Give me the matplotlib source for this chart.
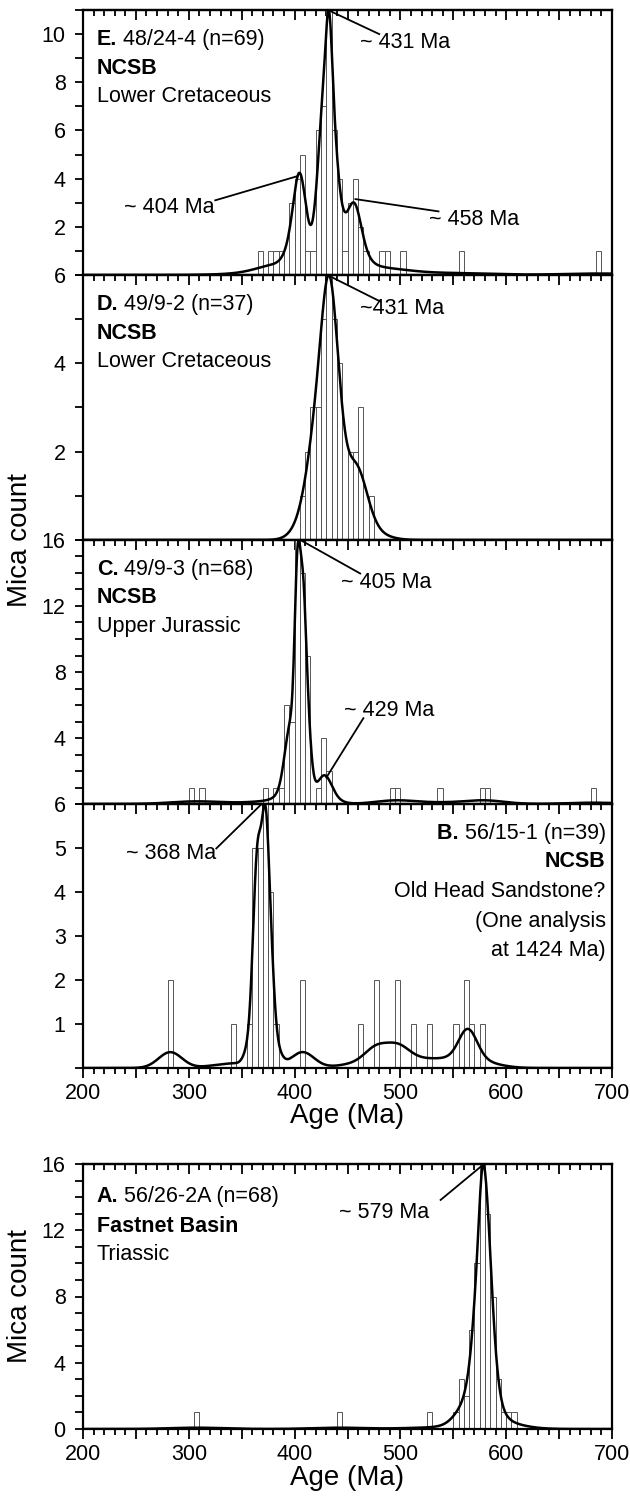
import numpy as np
import matplotlib.pyplot as plt
from matplotlib.ticker import MultipleLocator, FixedLocator, FuncFormatter

plt.rcParams['font.family'] = ['Liberation Sans', 'DejaVu Sans']
plt.rcParams['font.size'] = 15.5

BIN = 5  # histogram bin width (Ma)

# E. 48/24-4
e_bins = [365, 375, 380, 385, 395, 400, 405, 410, 415, 420, 425, 430, 435, 440,
          445, 450, 455, 460, 465, 480, 485, 500, 555, 685]
e_counts = [1, 1, 1, 1, 3, 4, 5, 1, 1, 6, 7, 11, 6, 4, 1, 3, 4, 2, 1, 1, 1, 1, 1, 1]

# D. 49/9-2
d_bins = [405, 410, 415, 420, 425, 430, 435, 440, 450, 455, 460, 470]
d_counts = [1, 2, 3, 3, 5, 6, 5, 4, 2, 2, 3, 1]

# C. 49/9-3
c_bins = [300, 310, 370, 380, 385, 390, 395, 400, 405, 410, 420, 425, 430,
          490, 495, 535, 575, 580, 680]
c_counts = [1, 1, 1, 1, 1, 6, 5, 16, 14, 9, 1, 4, 2, 1, 1, 1, 1, 1, 1]

# B. 56/15-1
b_bins = [280, 340, 355, 360, 365, 370, 375, 380, 405, 460, 475, 495, 510,
          525, 550, 560, 565, 575]
b_counts = [2, 1, 1, 5, 5, 6, 4, 1, 2, 1, 2, 2, 1, 1, 1, 2, 1, 1]

# A. 56/26-2A
a_bins = [305, 440, 525, 550, 555, 560, 565, 570, 575, 580, 585, 590, 595, 600, 605]
a_counts = [1, 1, 1, 1, 3, 2, 6, 10, 16, 13, 8, 3, 1, 1, 1]


def adaptive_kde(bins, counts, grid, h0, alpha):
    # spread each bin's grains across the bin, then variable bandwidth
    ages = np.concatenate([b + (np.arange(c) + 0.5) * BIN / c
                           for b, c in zip(bins, counts)])
    d = ages[:, None] - ages[None, :]
    pilot = np.exp(-0.5 * (d / h0) ** 2).sum(axis=1) / (len(ages) * h0 * np.sqrt(2 * np.pi))
    g = np.exp(np.log(pilot).mean())
    h = h0 * (g / pilot) ** alpha
    z = (grid[:, None] - ages[None, :]) / h[None, :]
    dens = (np.exp(-0.5 * z ** 2) / h).sum(axis=1)
    # curve scaled so its peak sits on the tallest bar
    return dens / dens.max() * max(counts)


def hundreds(v, pos):
    return '%d' % v if v % 100 == 0 else ''


def setup(ax, ymax, majors, minor, xlabels):
    ax.set_xlim(200, 700)
    ax.set_ylim(0, ymax)
    for s in ax.spines.values():
        s.set_linewidth(1.6)
    ax.xaxis.set_major_locator(MultipleLocator(50))
    ax.xaxis.set_minor_locator(MultipleLocator(10))
    ax.xaxis.set_major_formatter(FuncFormatter(hundreds))
    ax.tick_params(axis='x', which='major', direction='out', length=7, width=1.3,
                   labelbottom=xlabels, pad=4)
    ax.tick_params(axis='x', which='minor', direction='out', length=4.5, width=1.3)
    top = ax.secondary_xaxis('top')
    top.xaxis.set_major_locator(MultipleLocator(50))
    top.xaxis.set_minor_locator(MultipleLocator(10))
    top.tick_params(axis='x', which='major', direction='in', length=7, width=1.3,
                    labeltop=False)
    top.tick_params(axis='x', which='minor', direction='in', length=4.5, width=1.3)
    top.spines['top'].set_linewidth(1.6)
    ax.yaxis.set_major_locator(FixedLocator(majors))
    if minor:
        ax.yaxis.set_minor_locator(MultipleLocator(minor))
    ax.tick_params(axis='y', which='major', direction='out', length=5.5, width=1.3, pad=7)
    ax.tick_params(axis='y', which='minor', direction='out', length=5.5, width=1.3)


def draw(ax, bins, counts, h0, alpha):
    ax.bar(bins, counts, width=BIN, align='edge', facecolor='white',
           edgecolor='#555555', linewidth=0.7, zorder=1)
    grid = np.linspace(200, 700, 1001)
    ax.plot(grid, adaptive_kde(bins, counts, grid, h0, alpha), color='black',
            lw=1.8, zorder=3)


def lead(ax, p0, p1):
    ax.plot([p0[0], p1[0]], [p0[1], p1[1]], color='black', lw=1.3, zorder=4,
            clip_on=False)


def info(ax, lines, ys, right=False):
    x = 0.988 if right else 0.026
    ha = 'right' if right else 'left'
    for (bold, rest), y in zip(lines, ys):
        if bold and rest:
            if right:
                t = ax.text(x, y, rest, transform=ax.transAxes, ha='right', va='center')
                ax.annotate(bold + ' ', xycoords=t, xy=(0, 0.5), ha='right',
                            va='center', fontweight='bold')
            else:
                t = ax.text(x, y, bold, transform=ax.transAxes, ha='left',
                            va='center', fontweight='bold')
                ax.annotate(' ' + rest, xycoords=t, xy=(1, 0.5), ha='left', va='center')
        elif bold:
            ax.text(x, y, bold, fontweight='bold', transform=ax.transAxes, ha=ha, va='center')
        else:
            ax.text(x, y, rest, transform=ax.transAxes, ha=ha, va='center')


W, H = 630, 1499
fig = plt.figure(figsize=(W / 100, H / 100), dpi=100)
L, R = 83 / W, 612 / W


def panel(top_px, bot_px):
    return fig.add_axes([L, 1 - bot_px / H, R - L, (bot_px - top_px) / H])


axE = panel(10, 275)
axD = panel(275, 540)
axC = panel(540, 804)
axB = panel(804, 1068)
axA = panel(1164, 1429)

ys_left = (0.888, 0.781, 0.673)

# E
draw(axE, e_bins, e_counts, 5.0, 0.9)
setup(axE, 11, [2, 4, 6, 8, 10], 1, False)
info(axE, [('E.', '48/24-4 (n=69)'), ('NCSB', ''), ('', 'Lower Cretaceous')], ys_left)
axE.text(462, 9.65, '~ 431 Ma', va='center')
lead(axE, (431.5, 11.0), (480, 10.0))
axE.text(324, 2.8, '~ 404 Ma', va='center', ha='right')
lead(axE, (325, 3.1), (402.5, 4.1))
axE.text(527, 2.3, '~ 458 Ma', va='center')
lead(axE, (457.5, 3.15), (536, 2.64))

# D
draw(axD, d_bins, d_counts, 7.0, 0.5)
setup(axD, 6, [2, 4, 6], 1, False)
info(axD, [('D.', '49/9-2 (n=37)'), ('NCSB', ''), ('', 'Lower Cretaceous')], ys_left)
axD.text(462, 5.25, '~431 Ma', va='center')
lead(axD, (431, 6.0), (481, 5.4))

# C
draw(axC, c_bins, c_counts, 3.5, 0.85)
setup(axC, 16, [4, 8, 12, 16], 1, False)
info(axC, [('C.', '49/9-3 (n=68)'), ('NCSB', ''), ('', 'Upper Jurassic')], ys_left)
axC.text(444, 13.4, '~ 405 Ma', va='center')
lead(axC, (405.5, 16.0), (462, 13.97))
axC.text(447, 5.65, '~ 429 Ma', va='center')
lead(axC, (430, 1.6), (465, 5.2))

# B
draw(axB, b_bins, b_counts, 5.0, 0.9)
setup(axB, 6, [1, 2, 3, 4, 5, 6], None, True)
axB.yaxis.set_minor_locator(FixedLocator([0]))
info(axB, [('B.', '56/15-1 (n=39)'), ('NCSB', ''), ('', 'Old Head Sandstone?'),
           ('', '(One analysis'), ('', 'at 1424 Ma)')],
     (0.89, 0.781, 0.668, 0.554, 0.444), right=True)
axB.text(326, 4.88, '~ 368 Ma', va='center', ha='right')
lead(axB, (326, 4.99), (368, 5.98))

# A
draw(axA, a_bins, a_counts, 4.0, 0.7)
setup(axA, 16, [0, 4, 8, 12, 16], 1, True)
info(axA, [('A.', '56/26-2A (n=68)'), ('Fastnet Basin', ''), ('', 'Triassic')],
     (0.877, 0.766, 0.657))
axA.text(442, 13.06, '~ 579 Ma', va='center')
lead(axA, (538, 13.83), (579, 16.0))

fig.text(20 / W, 1 - 540 / H, 'Mica count', rotation=90, ha='center', va='center', fontsize=20)
fig.text(20 / W, 1 - 1296 / H, 'Mica count', rotation=90, ha='center', va='center', fontsize=20)
fig.text((L + R) / 2, 1 - 1116 / H, 'Age (Ma)', ha='center', va='center', fontsize=20)
fig.text((L + R) / 2, 1 - 1478 / H, 'Age (Ma)', ha='center', va='center', fontsize=20)

fig.savefig('out.png', dpi=100, facecolor='white')
